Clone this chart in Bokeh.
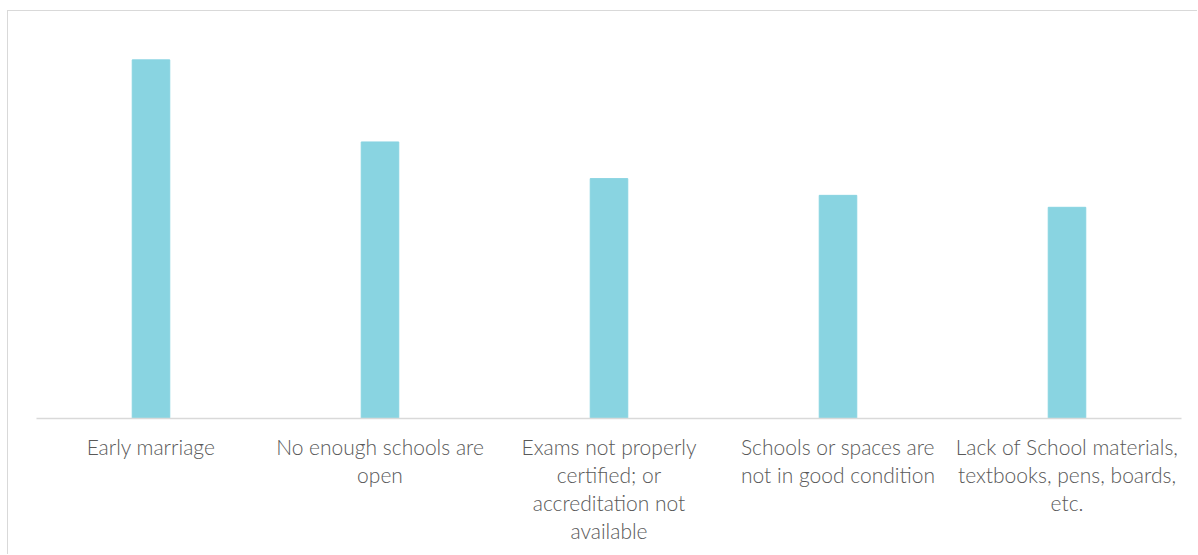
from bokeh.plotting import figure
from bokeh.models import Range1d, FactorRange, ColumnDataSource
from bokeh.embed import file_html
from bokeh.resources import INLINE

categories = [
    "Early marriage",
    "No enough schools are\nopen",
    "Exams not properly\ncertified; or\naccreditation not\navailable",
    "Schools or spaces are\nnot in good condition",
    "Lack of School materials,\ntextbooks, pens, boards,\netc.",
]
values = [45.0, 34.7, 30.1, 28.0, 26.5]

source = ColumnDataSource(data=dict(cat=categories, val=values))

p = figure(
    x_range=FactorRange(*categories, range_padding=0),
    y_range=Range1d(0, 51.07),
    width=1190, height=544,
    output_backend="svg", toolbar_location=None,
    y_axis_location=None,
    min_border_left=28, min_border_right=17,
    min_border_top=0, min_border_bottom=137,
    margin=(10, 0, 0, 7),
    styles={"border-left": "1px solid #d9d9d9", "border-top": "1px solid #d9d9d9"},
)
p.vbar(x="cat", top="val", width=0.164, source=source,
       fill_color="#89D4E1", line_color="#89D4E1")

p.xgrid.visible = False
p.ygrid.visible = False
p.outline_line_color = None

ax = p.xaxis[0]
ax.axis_line_color = "#d9d9d9"
ax.axis_line_width = 1.5
ax.major_tick_line_color = None
ax.minor_tick_line_color = None
ax.major_label_text_font = "'Lato Light', Lato"
ax.major_label_text_font_size = "21px"
ax.major_label_text_color = "#595959"
ax.major_label_text_line_height = 1.12
ax.major_label_standoff = 9

open("out.html", "w").write(file_html(p, INLINE))
